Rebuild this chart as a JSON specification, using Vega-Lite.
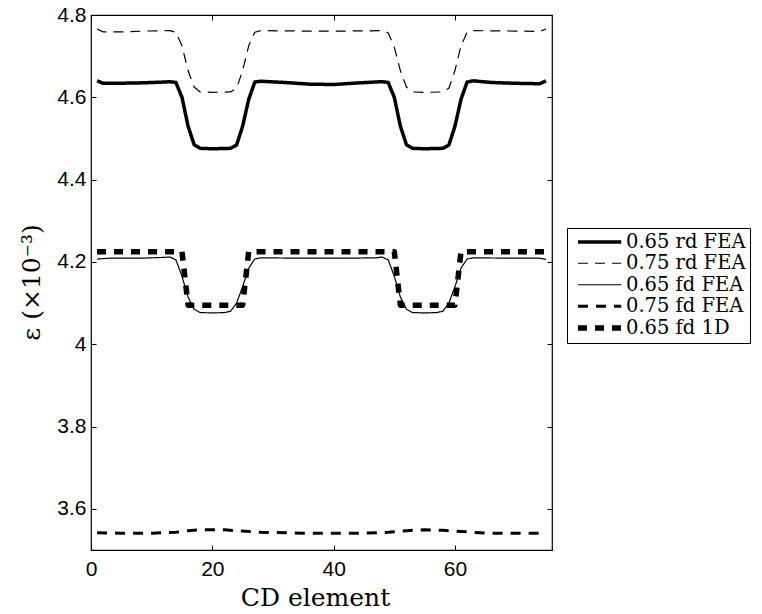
{
  "$schema": "https://vega.github.io/schema/vega-lite/v6.json",
  "width": 461,
  "height": 535,
  "autosize": {"type": "none"},
  "padding": {"left": 91, "top": 15, "right": 210, "bottom": 64},
  "background": "white",
  "config": {
    "view": {"stroke": "black", "strokeWidth": 1.2},
    "axis": {"grid": false, "domain": false, "tickColor": "black", "tickWidth": 1, "labelColor": "black", "titleColor": "black", "labelFont": "Liberation Sans", "labelFontSize": 21, "tickSize": -5, "labelFlush": false}
  },
  "datasets": {
    "curves": [
      {"series": "0.65 rd FEA", "element": 1, "strain": 4.640},
      {"series": "0.65 rd FEA", "element": 2, "strain": 4.634},
      {"series": "0.65 rd FEA", "element": 4, "strain": 4.634},
      {"series": "0.65 rd FEA", "element": 8, "strain": 4.635},
      {"series": "0.65 rd FEA", "element": 12, "strain": 4.637},
      {"series": "0.65 rd FEA", "element": 13, "strain": 4.638},
      {"series": "0.65 rd FEA", "element": 14, "strain": 4.636},
      {"series": "0.65 rd FEA", "element": 15, "strain": 4.600},
      {"series": "0.65 rd FEA", "element": 16, "strain": 4.530},
      {"series": "0.65 rd FEA", "element": 17, "strain": 4.485},
      {"series": "0.65 rd FEA", "element": 18, "strain": 4.476},
      {"series": "0.65 rd FEA", "element": 20, "strain": 4.475},
      {"series": "0.65 rd FEA", "element": 23, "strain": 4.476},
      {"series": "0.65 rd FEA", "element": 24, "strain": 4.484},
      {"series": "0.65 rd FEA", "element": 25, "strain": 4.530},
      {"series": "0.65 rd FEA", "element": 26, "strain": 4.595},
      {"series": "0.65 rd FEA", "element": 27, "strain": 4.637},
      {"series": "0.65 rd FEA", "element": 28, "strain": 4.639},
      {"series": "0.65 rd FEA", "element": 32, "strain": 4.636},
      {"series": "0.65 rd FEA", "element": 36, "strain": 4.632},
      {"series": "0.65 rd FEA", "element": 40, "strain": 4.631},
      {"series": "0.65 rd FEA", "element": 44, "strain": 4.635},
      {"series": "0.65 rd FEA", "element": 48, "strain": 4.638},
      {"series": "0.65 rd FEA", "element": 49, "strain": 4.636},
      {"series": "0.65 rd FEA", "element": 50, "strain": 4.600},
      {"series": "0.65 rd FEA", "element": 51, "strain": 4.530},
      {"series": "0.65 rd FEA", "element": 52, "strain": 4.485},
      {"series": "0.65 rd FEA", "element": 53, "strain": 4.476},
      {"series": "0.65 rd FEA", "element": 55, "strain": 4.475},
      {"series": "0.65 rd FEA", "element": 58, "strain": 4.476},
      {"series": "0.65 rd FEA", "element": 59, "strain": 4.484},
      {"series": "0.65 rd FEA", "element": 60, "strain": 4.530},
      {"series": "0.65 rd FEA", "element": 61, "strain": 4.595},
      {"series": "0.65 rd FEA", "element": 62, "strain": 4.637},
      {"series": "0.65 rd FEA", "element": 63, "strain": 4.640},
      {"series": "0.65 rd FEA", "element": 66, "strain": 4.636},
      {"series": "0.65 rd FEA", "element": 70, "strain": 4.634},
      {"series": "0.65 rd FEA", "element": 74, "strain": 4.633},
      {"series": "0.65 rd FEA", "element": 75, "strain": 4.640},

      {"series": "0.75 rd FEA", "element": 1, "strain": 4.766},
      {"series": "0.75 rd FEA", "element": 2, "strain": 4.759},
      {"series": "0.75 rd FEA", "element": 5, "strain": 4.759},
      {"series": "0.75 rd FEA", "element": 9, "strain": 4.761},
      {"series": "0.75 rd FEA", "element": 13, "strain": 4.762},
      {"series": "0.75 rd FEA", "element": 14, "strain": 4.758},
      {"series": "0.75 rd FEA", "element": 15, "strain": 4.725},
      {"series": "0.75 rd FEA", "element": 16, "strain": 4.665},
      {"series": "0.75 rd FEA", "element": 17, "strain": 4.625},
      {"series": "0.75 rd FEA", "element": 18, "strain": 4.613},
      {"series": "0.75 rd FEA", "element": 20, "strain": 4.612},
      {"series": "0.75 rd FEA", "element": 23, "strain": 4.613},
      {"series": "0.75 rd FEA", "element": 24, "strain": 4.622},
      {"series": "0.75 rd FEA", "element": 25, "strain": 4.665},
      {"series": "0.75 rd FEA", "element": 26, "strain": 4.725},
      {"series": "0.75 rd FEA", "element": 27, "strain": 4.758},
      {"series": "0.75 rd FEA", "element": 28, "strain": 4.762},
      {"series": "0.75 rd FEA", "element": 35, "strain": 4.761},
      {"series": "0.75 rd FEA", "element": 42, "strain": 4.761},
      {"series": "0.75 rd FEA", "element": 48, "strain": 4.762},
      {"series": "0.75 rd FEA", "element": 49, "strain": 4.757},
      {"series": "0.75 rd FEA", "element": 50, "strain": 4.722},
      {"series": "0.75 rd FEA", "element": 51, "strain": 4.665},
      {"series": "0.75 rd FEA", "element": 52, "strain": 4.625},
      {"series": "0.75 rd FEA", "element": 53, "strain": 4.613},
      {"series": "0.75 rd FEA", "element": 55, "strain": 4.612},
      {"series": "0.75 rd FEA", "element": 58, "strain": 4.613},
      {"series": "0.75 rd FEA", "element": 59, "strain": 4.622},
      {"series": "0.75 rd FEA", "element": 60, "strain": 4.665},
      {"series": "0.75 rd FEA", "element": 61, "strain": 4.725},
      {"series": "0.75 rd FEA", "element": 62, "strain": 4.758},
      {"series": "0.75 rd FEA", "element": 63, "strain": 4.762},
      {"series": "0.75 rd FEA", "element": 70, "strain": 4.761},
      {"series": "0.75 rd FEA", "element": 74, "strain": 4.760},
      {"series": "0.75 rd FEA", "element": 75, "strain": 4.766},

      {"series": "0.65 fd FEA", "element": 1, "strain": 4.207},
      {"series": "0.65 fd FEA", "element": 3, "strain": 4.209},
      {"series": "0.65 fd FEA", "element": 8, "strain": 4.209},
      {"series": "0.65 fd FEA", "element": 12, "strain": 4.211},
      {"series": "0.65 fd FEA", "element": 13, "strain": 4.212},
      {"series": "0.65 fd FEA", "element": 14, "strain": 4.205},
      {"series": "0.65 fd FEA", "element": 15, "strain": 4.165},
      {"series": "0.65 fd FEA", "element": 16, "strain": 4.115},
      {"series": "0.65 fd FEA", "element": 17, "strain": 4.085},
      {"series": "0.65 fd FEA", "element": 18, "strain": 4.077},
      {"series": "0.65 fd FEA", "element": 20, "strain": 4.076},
      {"series": "0.65 fd FEA", "element": 22, "strain": 4.077},
      {"series": "0.65 fd FEA", "element": 23, "strain": 4.080},
      {"series": "0.65 fd FEA", "element": 24, "strain": 4.100},
      {"series": "0.65 fd FEA", "element": 25, "strain": 4.140},
      {"series": "0.65 fd FEA", "element": 26, "strain": 4.185},
      {"series": "0.65 fd FEA", "element": 27, "strain": 4.207},
      {"series": "0.65 fd FEA", "element": 28, "strain": 4.210},
      {"series": "0.65 fd FEA", "element": 35, "strain": 4.209},
      {"series": "0.65 fd FEA", "element": 42, "strain": 4.209},
      {"series": "0.65 fd FEA", "element": 47, "strain": 4.210},
      {"series": "0.65 fd FEA", "element": 48, "strain": 4.212},
      {"series": "0.65 fd FEA", "element": 49, "strain": 4.205},
      {"series": "0.65 fd FEA", "element": 50, "strain": 4.165},
      {"series": "0.65 fd FEA", "element": 51, "strain": 4.115},
      {"series": "0.65 fd FEA", "element": 52, "strain": 4.085},
      {"series": "0.65 fd FEA", "element": 53, "strain": 4.077},
      {"series": "0.65 fd FEA", "element": 55, "strain": 4.076},
      {"series": "0.65 fd FEA", "element": 57, "strain": 4.077},
      {"series": "0.65 fd FEA", "element": 58, "strain": 4.080},
      {"series": "0.65 fd FEA", "element": 59, "strain": 4.100},
      {"series": "0.65 fd FEA", "element": 60, "strain": 4.140},
      {"series": "0.65 fd FEA", "element": 61, "strain": 4.185},
      {"series": "0.65 fd FEA", "element": 62, "strain": 4.207},
      {"series": "0.65 fd FEA", "element": 63, "strain": 4.210},
      {"series": "0.65 fd FEA", "element": 70, "strain": 4.209},
      {"series": "0.65 fd FEA", "element": 74, "strain": 4.209},
      {"series": "0.65 fd FEA", "element": 75, "strain": 4.206},

      {"series": "0.75 fd FEA", "element": 1, "strain": 3.542},
      {"series": "0.75 fd FEA", "element": 5, "strain": 3.541},
      {"series": "0.75 fd FEA", "element": 10, "strain": 3.541},
      {"series": "0.75 fd FEA", "element": 14, "strain": 3.543},
      {"series": "0.75 fd FEA", "element": 16, "strain": 3.547},
      {"series": "0.75 fd FEA", "element": 18, "strain": 3.549},
      {"series": "0.75 fd FEA", "element": 22, "strain": 3.549},
      {"series": "0.75 fd FEA", "element": 25, "strain": 3.546},
      {"series": "0.75 fd FEA", "element": 28, "strain": 3.543},
      {"series": "0.75 fd FEA", "element": 35, "strain": 3.541},
      {"series": "0.75 fd FEA", "element": 45, "strain": 3.541},
      {"series": "0.75 fd FEA", "element": 49, "strain": 3.543},
      {"series": "0.75 fd FEA", "element": 52, "strain": 3.547},
      {"series": "0.75 fd FEA", "element": 55, "strain": 3.549},
      {"series": "0.75 fd FEA", "element": 58, "strain": 3.548},
      {"series": "0.75 fd FEA", "element": 61, "strain": 3.545},
      {"series": "0.75 fd FEA", "element": 65, "strain": 3.541},
      {"series": "0.75 fd FEA", "element": 75, "strain": 3.541},

      {"series": "0.65 fd 1D", "element": 1, "strain": 4.225},
      {"series": "0.65 fd 1D", "element": 15, "strain": 4.225},
      {"series": "0.65 fd 1D", "element": 16, "strain": 4.095},
      {"series": "0.65 fd 1D", "element": 25, "strain": 4.095},
      {"series": "0.65 fd 1D", "element": 26, "strain": 4.225},
      {"series": "0.65 fd 1D", "element": 50, "strain": 4.225},
      {"series": "0.65 fd 1D", "element": 51, "strain": 4.095},
      {"series": "0.65 fd 1D", "element": 60, "strain": 4.095},
      {"series": "0.65 fd 1D", "element": 61, "strain": 4.225},
      {"series": "0.65 fd 1D", "element": 75, "strain": 4.225}
    ]
  },
  "data": {"name": "curves"},
  "layer": [
    {
      "mark": {"type": "line", "strokeCap": "butt", "strokeJoin": "round"},
      "encoding": {
        "x": {"field": "element", "type": "quantitative", "scale": {"domain": [0, 76], "nice": false},
          "axis": {"orient": "bottom", "values": [0, 20, 40, 60], "labelPadding": 13, "title": "CD element", "titleFont": "DejaVu Serif", "titleFontSize": 25, "titleFontWeight": "normal", "titleX": 224, "titleY": 47, "titleBaseline": "middle", "titleAlign": "center"}},
        "y": {"field": "strain", "type": "quantitative", "scale": {"domain": [3.5, 4.8], "nice": false, "zero": false},
          "axis": {"orient": "left", "values": [3.6, 3.8, 4, 4.2, 4.4, 4.6, 4.8], "format": ".1~f", "labelPadding": 10, "title": "ε (×10⁻³)", "titleFont": "DejaVu Serif", "titleFontSize": 25, "titleFontWeight": "normal", "titleX": -60, "titleY": 267, "titleAngle": -90, "titleBaseline": "middle", "titleAlign": "center"}},
        "color": {"field": "series", "type": "nominal",
          "scale": {"domain": ["0.65 rd FEA", "0.75 rd FEA", "0.65 fd FEA", "0.75 fd FEA", "0.65 fd 1D"], "range": ["black", "black", "black", "black", "black"]},
          "legend": {"title": null, "orient": "none", "legendX": 476, "legendY": 213, "padding": 4, "strokeColor": "black", "fillColor": "white", "labelFont": "DejaVu Serif", "labelFontSize": 19.5, "labelColor": "black", "symbolType": "M-0.5,0H4.9", "symbolSize": 256, "labelOffset": 33, "rowPadding": 0.5, "symbolStrokeColor": "black"}},
        "strokeDash": {"field": "series", "type": "nominal",
          "scale": {"type": "ordinal", "domain": ["0.65 rd FEA", "0.75 rd FEA", "0.65 fd FEA", "0.75 fd FEA", "0.65 fd 1D"], "range": [[1, 0], [10, 7], [1, 0], [10, 8], [9, 8]]}},
        "strokeWidth": {"field": "series", "type": "nominal",
          "scale": {"type": "ordinal", "domain": ["0.65 rd FEA", "0.75 rd FEA", "0.65 fd FEA", "0.75 fd FEA", "0.65 fd 1D"], "range": [3.5, 1.2, 1.2, 3, 5.5]}}
      }
    },
    {
      "mark": {"type": "point", "opacity": 0},
      "encoding": {
        "x": {"field": "element", "type": "quantitative", "axis": {"orient": "top", "values": [0, 20, 40, 60], "labels": false, "title": null}},
        "y": {"field": "strain", "type": "quantitative", "axis": {"orient": "right", "values": [3.6, 3.8, 4, 4.2, 4.4, 4.6, 4.8], "labels": false, "title": null}}
      }
    }
  ]
}
